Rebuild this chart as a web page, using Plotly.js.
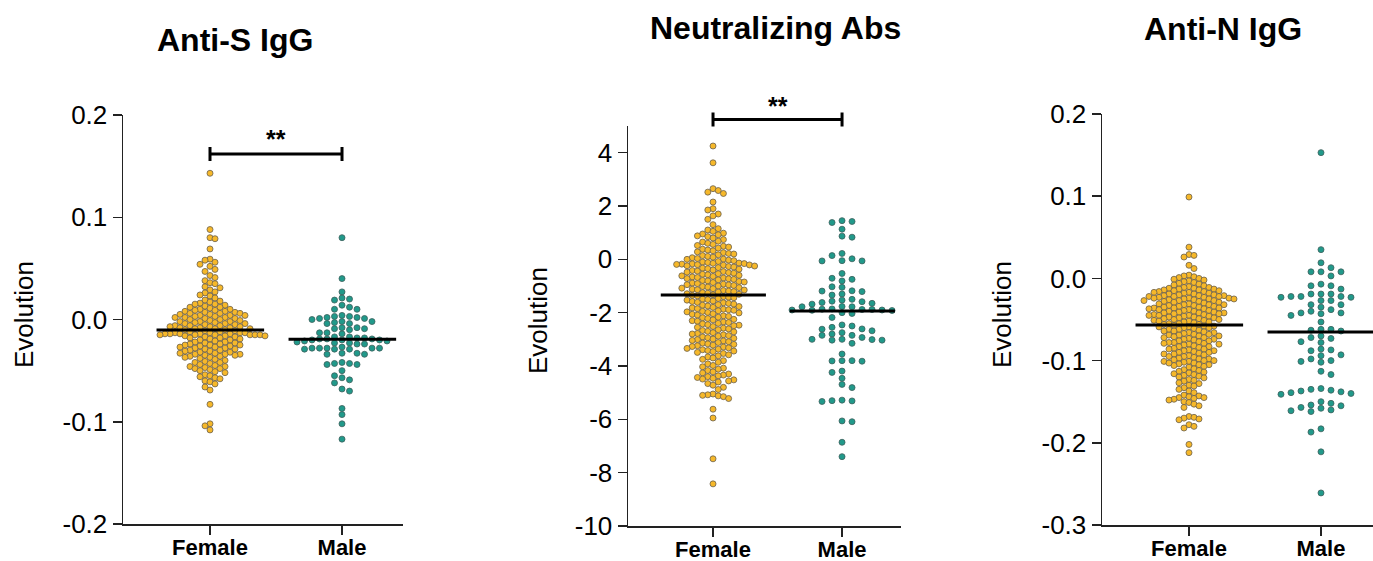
<!DOCTYPE html>
<html><head><meta charset="utf-8">
<script src="https://cdn.plot.ly/plotly-3.0.1.min.js"></script>
<style>html,body{margin:0;padding:0;background:#fff}#chart{width:1373px;height:561px}</style>
</head><body><div id="chart"></div>
<script>
// ---------- DATA ----------
const groups = ['Female', 'Male'];
const titles = ['Anti-S IgG', 'Neutralizing Abs', 'Anti-N IgG'];
const yLabel = 'Evolution';

const antiS_female = [0.143,0.088,0.080,0.079,0.069,0.059,0.058,0.056,0.054,0.052,0.049,0.047,0.043,0.041,0.038,0.036,0.035,0.032,0.031,0.029,0.027,0.026,0.024,0.023,0.021,
0.019,0.018,0.017,0.016,0.015,0.015,0.014,0.013,0.012,0.012,0.011,0.010,
0.010,0.009,0.009,0.008,0.008,0.007,0.007,0.006,0.006,0.006,0.005,0.005,0.004,0.004,0.004,0.003,0.003,0.002,0.002,0.002,0.001,0.001,0.000,0.000,
-0.001,-0.001,-0.002,-0.002,-0.002,-0.003,-0.003,-0.004,-0.004,-0.004,-0.005,-0.005,-0.006,-0.006,-0.006,-0.007,-0.007,-0.007,-0.008,-0.008,-0.008,-0.009,-0.009,-0.009,-0.010,-0.010,
-0.011,-0.011,-0.012,-0.012,-0.013,-0.013,-0.013,-0.013,-0.014,-0.014,-0.014,-0.014,-0.014,-0.015,-0.015,-0.015,-0.015,-0.015,-0.015,-0.016,-0.016,-0.016,-0.017,-0.017,-0.018,-0.018,-0.019,-0.019,-0.020,-0.020,
-0.021,-0.022,-0.022,-0.023,-0.023,-0.024,-0.024,-0.025,-0.025,-0.026,-0.026,-0.027,-0.027,-0.028,-0.028,-0.029,-0.029,-0.030,-0.030,-0.025,
-0.031,-0.031,-0.032,-0.032,-0.033,-0.033,-0.034,-0.034,-0.034,-0.035,-0.035,-0.036,-0.036,-0.037,-0.037,-0.038,-0.039,-0.040,
-0.041,-0.042,-0.042,-0.043,-0.044,-0.045,-0.046,-0.046,-0.047,-0.048,-0.048,-0.049,-0.050,
-0.051,-0.052,-0.054,-0.055,-0.056,-0.057,-0.058,-0.060,
-0.061,-0.063,-0.066,-0.069,
-0.083,-0.102,-0.104,-0.108];
const antiS_male = [0.080,0.040,0.027,0.021,0.020,0.019,0.014,0.012,0.010,0.010,
0.004,0.003,0.003,0.002,0.002,0.001,0.001,0.000,
-0.002,-0.002,-0.003,-0.004,-0.004,
-0.008,-0.008,-0.009,-0.009,-0.010,-0.013,-0.013,-0.014,
-0.017,-0.017,-0.018,-0.018,-0.019,-0.019,-0.019,-0.020,-0.020,-0.020,-0.021,-0.021,
-0.022,-0.023,-0.023,-0.024,-0.024,
-0.027,-0.028,-0.028,-0.028,-0.029,-0.029,-0.029,-0.028,-0.028,
-0.033,-0.033,-0.034,-0.034,
-0.042,-0.043,-0.043,-0.044,-0.044,
-0.050,-0.055,-0.057,-0.059,-0.062,-0.068,-0.070,
-0.087,-0.093,-0.102,-0.117];

const nab_female = [4.25,3.62,2.65,2.58,2.52,2.47,2.15,1.90,1.85,1.70,1.63,1.50,1.30,1.15,1.10,1.05,
0.98,0.95,0.92,0.88,0.85,0.80,0.74,0.68,0.65,0.60,0.56,0.52,
0.49,0.46,0.42,0.38,0.35,0.32,0.28,0.25,0.22,0.20,0.17,0.14,0.11,0.08,0.06,0.03,0.01,0.00,
-0.03,-0.05,-0.08,-0.10,-0.12,-0.14,-0.15,-0.16,-0.17,-0.18,-0.19,-0.20,-0.21,-0.22,-0.24,-0.25,-0.27,-0.29,-0.31,-0.33,-0.35,-0.37,-0.40,-0.42,-0.44,-0.46,-0.48,-0.50,
-0.52,-0.54,-0.56,-0.58,-0.60,-0.62,-0.64,-0.66,-0.68,-0.70,-0.72,-0.73,-0.75,-0.77,-0.79,-0.81,-0.83,-0.85,-0.87,-0.89,-0.91,-0.93,-0.95,-0.96,-0.98,-1.00,
-1.02,-1.04,-1.06,-1.08,-1.10,-1.12,-1.14,-1.15,-1.17,-1.19,-1.21,-1.23,-1.25,-1.27,-1.29,-1.31,-1.33,-1.35,-1.37,-1.40,-1.42,-1.44,-1.47,-1.49,
-1.51,-1.53,-1.56,-1.58,-1.61,-1.63,-1.65,-1.68,-1.70,-1.72,-1.75,-1.77,-1.80,-1.82,-1.85,-1.87,-1.89,-1.91,-1.93,-1.95,-1.97,-1.99,
-2.01,-2.04,-2.06,-2.09,-2.12,-2.14,-2.17,-2.19,-2.22,-2.25,-2.27,-2.30,-2.32,-2.35,-2.37,-2.40,-2.42,-2.45,-2.47,-2.49,
-2.52,-2.55,-2.58,-2.61,-2.64,-2.67,-2.70,-2.72,-2.75,-2.78,-2.80,-2.83,-2.86,-2.88,-2.91,-2.94,-2.96,-2.99,
-3.01,-3.04,-3.06,-3.09,-3.12,-3.14,-3.17,-3.19,-3.22,-3.24,-3.27,-3.29,-3.32,-3.34,-3.37,-3.39,-3.42,-3.44,-3.46,-3.49,
-3.53,-3.58,-3.62,-3.66,-3.70,-3.75,-3.80,-3.86,-3.92,-3.98,
-4.03,-4.08,-4.12,-4.17,-4.22,-4.26,-4.30,-4.34,-4.37,-4.40,-4.43,-4.46,-4.49,
-4.52,-4.56,-4.60,-4.66,-4.72,-4.80,-4.88,
-5.05,-5.08,-5.10,-5.12,-5.15,-5.22,
-5.62,-5.95,-7.48,-8.42];
const nab_male = [1.45,1.42,1.38,1.13,0.87,0.83,0.22,0.14,0.02,-0.05,-0.06,-0.06,
-0.53,-0.71,-0.75,-0.81,-1.03,-1.05,-1.18,-1.19,-1.21,-1.30,-1.34,
-1.50,-1.53,-1.57,-1.59,-1.62,-1.65,-1.68,
-1.77,-1.78,-1.78,-1.86,-1.87,-1.88,-1.88,-1.90,-1.90,-1.91,-1.92,
-2.03,-2.00,-2.18,
-2.46,-2.50,-2.55,-2.61,-2.62,-2.68,-2.75,-2.80,-2.85,-2.85,-2.93,-3.00,-3.00,-3.01,-3.03,-3.03,-3.15,
-3.55,-3.80,-3.80,-3.81,-3.82,
-4.19,-4.24,-4.46,-4.69,-4.81,
-5.28,-5.30,-5.31,-5.33,-6.06,-6.09,-6.86,-7.40];

const antiN_female = [0.099,0.038,0.029,0.028,0.026,0.016,0.012,
0.004,0.003,0.002,0.001,0.000,-0.001,-0.002,-0.003,-0.004,-0.005,-0.006,-0.007,-0.008,-0.009,-0.010,
-0.011,-0.011,-0.012,-0.012,-0.013,-0.013,-0.014,-0.014,-0.015,-0.015,-0.016,-0.016,-0.017,-0.017,-0.018,-0.018,-0.019,-0.019,-0.020,-0.020,
-0.021,-0.021,-0.021,-0.022,-0.022,-0.022,-0.023,-0.023,-0.024,-0.024,-0.024,-0.025,-0.025,-0.025,-0.026,-0.026,-0.027,-0.027,-0.027,-0.028,-0.028,-0.029,-0.029,-0.030,
-0.031,-0.031,-0.032,-0.032,-0.032,-0.033,-0.033,-0.034,-0.034,-0.035,-0.035,-0.036,-0.036,-0.036,-0.037,-0.037,-0.038,-0.038,-0.039,-0.039,-0.040,-0.040,
-0.041,-0.041,-0.042,-0.042,-0.042,-0.043,-0.043,-0.044,-0.044,-0.045,-0.045,-0.045,-0.046,-0.046,-0.047,-0.047,-0.048,-0.048,-0.049,-0.049,-0.050,-0.050,
-0.051,-0.051,-0.052,-0.052,-0.053,-0.053,-0.054,-0.055,-0.055,-0.056,-0.056,-0.057,-0.058,-0.058,-0.059,-0.059,-0.060,-0.060,
-0.061,-0.062,-0.062,-0.063,-0.064,-0.064,-0.065,-0.066,-0.066,-0.067,-0.068,-0.068,-0.069,-0.069,-0.070,-0.070,
-0.071,-0.072,-0.072,-0.073,-0.074,-0.074,-0.075,-0.076,-0.076,-0.077,-0.078,-0.078,-0.079,-0.079,-0.080,-0.080,
-0.081,-0.082,-0.083,-0.083,-0.084,-0.085,-0.086,-0.086,-0.087,-0.088,-0.088,-0.089,-0.090,-0.090,
-0.091,-0.092,-0.092,-0.093,-0.094,-0.095,-0.095,-0.096,-0.097,-0.098,-0.098,-0.099,-0.100,-0.100,
-0.101,-0.102,-0.103,-0.104,-0.105,-0.105,-0.106,-0.107,-0.108,-0.110,-0.101,-0.103,
-0.111,-0.112,-0.113,-0.114,-0.115,-0.116,-0.117,-0.118,-0.119,-0.120,
-0.121,-0.123,-0.124,-0.125,-0.127,-0.128,-0.130,
-0.131,-0.133,-0.135,-0.137,-0.139,
-0.142,-0.143,-0.144,-0.145,-0.145,-0.146,-0.147,-0.148,-0.150,
-0.151,-0.153,-0.155,-0.157,
-0.168,-0.169,-0.170,-0.171,-0.172,-0.178,-0.180,-0.182,
-0.202,-0.212];
const antiN_male = [0.153,0.035,0.019,0.013,0.008,0.008,0.008,0.003,-0.007,-0.009,-0.009,-0.013,
-0.019,-0.019,-0.019,-0.022,-0.022,-0.022,-0.023,-0.023,-0.027,-0.027,-0.032,-0.032,-0.035,-0.038,
-0.040,-0.042,-0.042,-0.043,-0.045,-0.053,-0.062,-0.062,-0.063,-0.064,-0.070,-0.072,-0.073,
-0.077,-0.078,-0.086,-0.087,-0.088,-0.093,-0.094,-0.098,-0.100,-0.101,-0.102,-0.113,-0.117,
-0.134,-0.135,-0.136,-0.137,-0.138,-0.139,-0.140,-0.141,
-0.150,-0.152,-0.154,-0.155,-0.157,-0.158,-0.160,-0.161,-0.162,
-0.183,-0.187,-0.211,-0.261];

const medians = [[-0.0103, -0.0194], [-1.34, -1.94], [-0.0567, -0.0652]];
const yTickVals = [[0.2,0.1,0.0,-0.1,-0.2],[4,2,0,-2,-4,-6,-8,-10],[0.2,0.1,0.0,-0.1,-0.2,-0.3]];
const yTickText = [['0.2','0.1','0.0','-0.1','-0.2'],['4','2','0','-2','-4','-6','-8','-10'],['0.2','0.1','0.0','-0.1','-0.2','-0.3']];
const yRanges = [[-0.2,0.2],[-10,5],[-0.3,0.2]];
const significance = ['**', '**', null];

const series = [[antiS_female, antiS_male],[nab_female, nab_male],[antiN_female, antiN_male]];

// ---------- LAYOUT GEOMETRY (pixels) ----------
const W = 1373, H = 561;
const panels = [
  {x0:123, x1:403, yTop:115, yBot:524, xr:[-0.659,1.462], titleX:235, titleY:40, labX:24, labY:315, colStep:[5,7.5], minDy:[5.2,6]},
  {x0:628, x1:901, yTop:126, yBot:526, xr:[-0.659,1.457], titleX:775, titleY:28, labX:538, labY:321, colStep:[5.2,10], minDy:[6,6]},
  {x0:1102,x1:1373,yTop:114, yBot:525, xr:[-0.659,1.394], titleX:1223,titleY:29, labX:1002,labY:315, colStep:[5,10], minDy:[5.5,6]}
];
const colors = [{fill:'#F6B82A', line:'#6a604c'}, {fill:'#21998A', line:'#3d5f5c'}];
const FONT = 'Liberation Sans, Arial, Helvetica, sans-serif';
const DOT = 6;

// column-based dot arrangement (scatter dot plot): each point keeps its y,
// and is pushed to the nearest free column where it would not overlap.
function swarm(values, pxPerY, step, minDy) {
  const idx = values.map((v,i)=>i).sort((a,b)=>values[b]-values[a]);
  const cols = new Map();
  const out = new Array(values.length);
  let flip = true;
  for (const i of idx) {
    const y = values[i]*pxPerY;
    let placed = false;
    for (let k = 0; !placed && k < 60; k++) {
      const cands = k === 0 ? [0] : (flip ? [k,-k] : [-k,k]);
      for (const c of cands) {
        const list = cols.get(c) || [];
        if (list.every(py => Math.abs(py - y) >= minDy)) {
          list.push(y); cols.set(c, list); out[i] = c*step; placed = true;
          if (k > 0) flip = !flip;
          break;
        }
      }
    }
  }
  return out;
}

const traces = [], shapes = [], annotations = [];
const layout = {
  width: W, height: H, margin:{l:0,r:0,t:0,b:0}, showlegend:false,
  paper_bgcolor:'#fff', plot_bgcolor:'rgba(0,0,0,0)',
  font:{family:FONT, color:'#000'}
};

panels.forEach((P, k) => {
  const sfx = k===0 ? '' : String(k+1);
  const xa = 'x'+sfx, ya = 'y'+sfx;
  const pxPerX = (P.x1-P.x0)/(P.xr[1]-P.xr[0]);
  const pxPerY = (P.yBot-P.yTop)/(yRanges[k][1]-yRanges[k][0]);
  layout['xaxis'+sfx] = {
    domain:[P.x0/W, P.x1/W], range:P.xr, anchor:ya,
    showgrid:false, zeroline:false, showline:true, linecolor:'#222', linewidth:1.5,
    ticks:'outside', ticklen:9, tickwidth:1.5, tickcolor:'#222',
    tickvals:[0,1], ticktext:groups, ticklabelstandoff:-6,
    tickfont:{family:FONT, size:22, weight:'bold', color:'#000'}, fixedrange:true
  };
  layout['yaxis'+sfx] = {
    domain:[1-P.yBot/H, 1-P.yTop/H], range:yRanges[k], anchor:xa,
    showgrid:false, zeroline:false, showline:true, linecolor:'#222', linewidth:1.5,
    ticks:'outside', ticklen:9, tickwidth:1.5, tickcolor:'#222',
    tickvals:yTickVals[k], ticktext:yTickText[k],
    tickfont:{family:FONT, size:26, color:'#000'}, fixedrange:true
  };
  series[k].forEach((vals, g) => {
    const offs = swarm(vals, pxPerY, P.colStep[g], P.minDy[g]);
    traces.push({
      type:'scatter', mode:'markers', xaxis:xa, yaxis:ya,
      x: vals.map((v,i)=> g + offs[i]/pxPerX), y: vals,
      marker:{size:DOT, color:colors[g].fill, line:{color:colors[g].line, width:0.8}},
      cliponaxis:false, hoverinfo:'y'
    });
    shapes.push({type:'line', xref:xa, yref:ya, x0:g-0.405, x1:g+0.41, y0:medians[k][g], y1:medians[k][g],
      line:{color:'#000', width:3}, layer:'above'});
  });
  annotations.push({xref:'paper', yref:'paper', x:P.titleX/W, y:1-P.titleY/H, text:titles[k], showarrow:false,
    xanchor:'center', yanchor:'middle', font:{family:FONT, size:32, weight:'bold', color:'#000'}});
  annotations.push({xref:'paper', yref:'paper', x:P.labX/W, y:1-P.labY/H, text:yLabel, textangle:-90, showarrow:false,
    xanchor:'center', yanchor:'middle', font:{family:FONT, size:26, color:'#000'}});
});

// significance brackets (pixel levels of the bracket bar)
const bracketY = [154, 119.5];
const starY = [139, 106];
[0,1].forEach(k => {
  const sfx = k===0 ? '' : String(k+1);
  const xa = 'x'+sfx;
  const yb = 1 - bracketY[k]/H, tick = 7/H;
  shapes.push({type:'line', xref:xa, yref:'paper', x0:0, x1:1, y0:yb, y1:yb, line:{color:'#000', width:3}});
  shapes.push({type:'line', xref:xa, yref:'paper', x0:0, x1:0, y0:yb-tick, y1:yb+tick, line:{color:'#000', width:3}});
  shapes.push({type:'line', xref:xa, yref:'paper', x0:1, x1:1, y0:yb-tick, y1:yb+tick, line:{color:'#000', width:3}});
  annotations.push({xref:xa, yref:'paper', x:0.5, y:1-starY[k]/H, text:significance[k], showarrow:false,
    xanchor:'center', yanchor:'middle', font:{family:FONT, size:25, weight:'bold', color:'#000'}});
});

layout.shapes = shapes;
layout.annotations = annotations;
Plotly.newPlot('chart', traces, layout, {displayModeBar:false, staticPlot:true});
</script></body></html>
